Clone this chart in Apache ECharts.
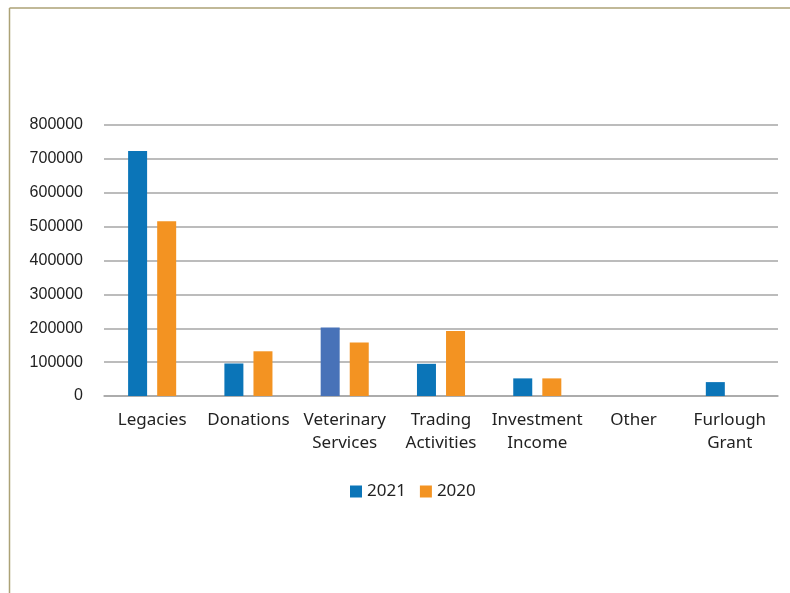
<!DOCTYPE html>
<html>
<head>
<meta charset="utf-8">
<script src="https://cdn.jsdelivr.net/npm/echarts@6/dist/echarts.min.js"></script>
<style>
html,body{margin:0;padding:0;background:#fff;}
#c{width:790px;height:593px;}
</style>
</head>
<body>
<div id="c"></div>
<script>
const categories = ['Legacies', 'Donations', 'Veterinary\nServices', 'Trading\nActivities', 'Investment\nIncome', 'Other', 'Furlough\nGrant'];
const values2021 = [723000, 96000, 202000, 95000, 52000, 0, 41000];
const values2020 = [516000, 132000, 158000, 192000, 52000, 0, 0];
const seriesNames = ['2021', '2020'];

const blue = '#0b75b8';
const orange = '#f39322';
const vetBlue = '#4872b8';

const chart = echarts.init(document.getElementById('c'), null, {renderer: 'canvas'});
chart.setOption({
  animation: false,
  backgroundColor: '#fff',
  graphic: [
    {type: 'line', shape: {x1: 9.5, y1: 8, x2: 790, y2: 8}, style: {stroke: '#aca276', lineWidth: 1.5}},
    {type: 'line', shape: {x1: 9.5, y1: 8, x2: 9.5, y2: 593}, style: {stroke: '#aca276', lineWidth: 1.5}}
  ],
  grid: {left: 104, right: 12, top: 125, bottom: 197, containLabel: false},
  legend: {
    data: seriesNames,
    top: 478,
    left: 345,
    itemWidth: 12,
    itemHeight: 12,
    itemGap: 14,
    icon: 'rect',
    textStyle: {fontFamily: 'Noto Sans', fontSize: 17, color: '#222'}
  },
  xAxis: {
    type: 'category',
    data: categories,
    axisTick: {show: false},
    axisLine: {lineStyle: {color: '#a6a6a6', width: 1.5}},
    axisLabel: {fontFamily: 'Noto Sans', fontSize: 17, color: '#222', margin: 13, lineHeight: 23, interval: 0}
  },
  yAxis: {
    type: 'value',
    min: 0,
    max: 800000,
    interval: 100000,
    axisLine: {show: false},
    axisTick: {show: false},
    splitLine: {lineStyle: {color: '#a6a6a6', width: 1.5}},
    axisLabel: {fontFamily: 'Liberation Sans', fontSize: 16, color: '#222', margin: 21, formatter: v => String(v)}
  },
  series: [
    {
      name: seriesNames[0],
      type: 'bar',
      data: values2021.map((v, i) => i === 2 ? {value: v, itemStyle: {color: vetBlue}} : v),
      itemStyle: {color: blue},
      barWidth: 19,
      barGap: '53%',
      barCategoryGap: '50%'
    },
    {
      name: seriesNames[1],
      type: 'bar',
      data: values2020,
      itemStyle: {color: orange},
      barWidth: 19,
      barGap: '53%',
      barCategoryGap: '50%'
    }
  ]
});
</script>
</body>
</html>
